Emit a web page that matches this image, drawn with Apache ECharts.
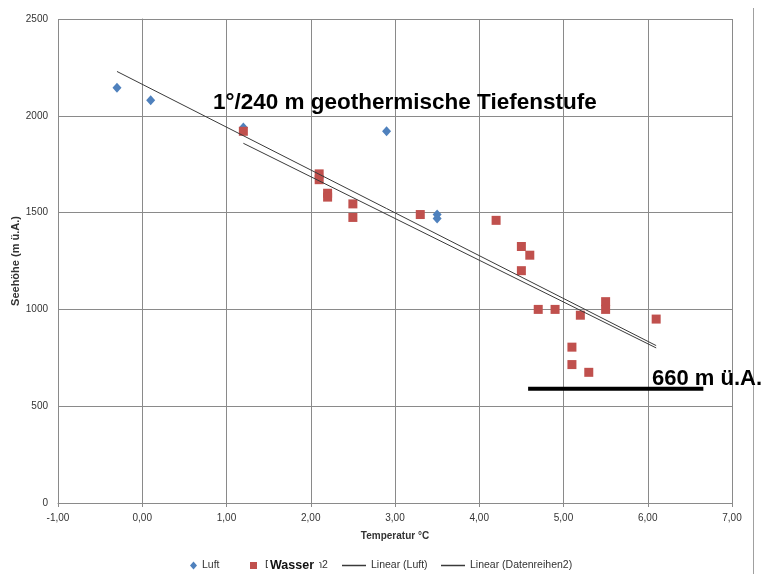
<!DOCTYPE html>
<html>
<head>
<meta charset="utf-8">
<title>Seehöhe und Temperatur</title>
<script src="https://cdn.jsdelivr.net/npm/echarts@6/dist/echarts.min.js"></script>
<style>
  html, body { margin: 0; padding: 0; background: #fff; }
  #chart { width: 763px; height: 574px; }
</style>
</head>
<body>
<div id="chart"></div>
<script>
// Air temperature readings (°C) and altitude (m ü.A.)
const luftTemp = [-0.3, 0.1, 1.2, 2.9, 3.5, 3.5];
const luftHoehe = [2145, 2080, 1940, 1920, 1490, 1470];

// Water (spring) temperature readings (°C) and altitude (m ü.A.)
const wasserTemp = [1.2, 2.1, 2.1, 2.2, 2.2, 2.5, 2.5, 3.3, 4.2, 4.5, 4.6, 4.5, 4.7, 4.9, 5.2, 5.5, 5.5, 6.1, 5.1, 5.1, 5.3];
const wasserHoehe = [1920, 1700, 1670, 1600, 1580, 1545, 1475, 1490, 1460, 1325, 1280, 1200, 1000, 1000, 970, 1040, 1000, 950, 805, 715, 675];

// Linear trend lines: end points (temperature, altitude)
const trendLuftTemp = [-0.3, 6.1];
const trendLuftHoehe = [2229, 813];
const trendWasserTemp = [1.2, 6.1];
const trendWasserHoehe = [1858, 801];

// Marker bar for the lowest spring level
const barTemp = [4.58, 6.66];
const barHoehe = [590, 590];

// Axis ticks
const xTickLabels = ['-1,00', '0,00', '1,00', '2,00', '3,00', '4,00', '5,00', '6,00', '7,00'];
const yTickLabels = ['0', '500', '1000', '1500', '2000', '2500'];

const seriesNames = ['Luft', 'Datenreihen2', 'Linear (Luft)', 'Linear (Datenreihen2)'];

const pairs = (xs, ys) => xs.map((x, i) => [x, ys[i]]);

const FONT = '"Liberation Sans", Arial, sans-serif';
const GRID_COLOR = '#8a8a8a';
const TEXT_COLOR = '#333';

const chart = echarts.init(document.getElementById('chart'), null, { renderer: 'canvas' });

function legendItem(name, left, opts) {
  return Object.assign({
    data: [name],
    left: left,
    top: 560,
    padding: 0,
    itemGap: 0,
    selectedMode: false,
    textStyle: { fontFamily: FONT, fontSize: 10.5, color: TEXT_COLOR }
  }, opts);
}

const option = {
  animation: false,
  backgroundColor: '#fff',
  grid: { left: 58, right: 31, top: 19, bottom: 71, containLabel: false, outerBoundsMode: 'none' },
  xAxis: {
    type: 'value',
    min: -1, max: 7, interval: 1,
    name: 'Temperatur °C',
    nameLocation: 'middle',
    nameGap: 28,
    nameTextStyle: { fontFamily: FONT, fontSize: 10, fontWeight: 'bold', color: TEXT_COLOR },
    axisLine: { show: true, lineStyle: { color: GRID_COLOR, width: 1 } },
    axisTick: { show: true, length: 4, lineStyle: { color: GRID_COLOR } },
    axisLabel: {
      margin: 10,
      fontFamily: FONT, fontSize: 10, color: TEXT_COLOR,
      formatter: v => xTickLabels[Math.round(v + 1)]
    },
    splitLine: { show: true, lineStyle: { color: GRID_COLOR, width: 1 } }
  },
  yAxis: {
    type: 'value',
    min: 0, max: 2500, interval: 500,
    name: 'Seehöhe (m ü.A.)',
    nameLocation: 'middle',
    nameGap: 37,
    nameMoveOverlap: false,
    nameTextStyle: { fontFamily: FONT, fontSize: 11, fontWeight: 'bold', color: TEXT_COLOR },
    axisLine: { show: true, lineStyle: { color: GRID_COLOR, width: 1 } },
    axisTick: { show: true, length: 4, lineStyle: { color: GRID_COLOR } },
    axisLabel: {
      margin: 10,
      fontFamily: FONT, fontSize: 10, color: TEXT_COLOR,
      formatter: v => yTickLabels[Math.round(v / 500)]
    },
    splitLine: { show: true, lineStyle: { color: GRID_COLOR, width: 1 } }
  },
  legend: [
    legendItem(seriesNames[0], 190, { itemWidth: 7, itemHeight: 8, icon: 'diamond' }),
    legendItem(seriesNames[1], 250, { itemWidth: 7, itemHeight: 7, icon: 'rect', formatter: n => ' ' + n }),
    legendItem(seriesNames[2], 342, { itemWidth: 24, itemHeight: 1.5, icon: 'rect' }),
    legendItem(seriesNames[3], 441, { itemWidth: 24, itemHeight: 1.5, icon: 'rect' })
  ],
  series: [
    {
      name: seriesNames[0],
      type: 'scatter',
      symbol: 'diamond',
      symbolSize: [9, 10],
      itemStyle: { color: '#4F81BD', opacity: 1 },
      data: pairs(luftTemp, luftHoehe),
      z: 2
    },
    {
      name: seriesNames[1],
      type: 'scatter',
      symbol: 'rect',
      symbolSize: 9,
      itemStyle: { color: '#C0504D', opacity: 1 },
      data: pairs(wasserTemp, wasserHoehe),
      z: 3
    },
    {
      name: seriesNames[2],
      type: 'line',
      showSymbol: false,
      symbol: 'none',
      itemStyle: { color: '#3a3a3a' },
      lineStyle: { color: '#3a3a3a', width: 1 },
      data: pairs(trendLuftTemp, trendLuftHoehe),
      z: 4
    },
    {
      name: seriesNames[3],
      type: 'line',
      showSymbol: false,
      symbol: 'none',
      itemStyle: { color: '#3a3a3a' },
      lineStyle: { color: '#3a3a3a', width: 1 },
      data: pairs(trendWasserTemp, trendWasserHoehe),
      z: 4
    },
    {
      name: 'Quellniveau',
      type: 'line',
      showSymbol: false,
      symbol: 'none',
      silent: true,
      lineStyle: { color: '#000', width: 4 },
      data: pairs(barTemp, barHoehe),
      z: 5
    }
  ],
  graphic: {
    z: 50,
    elements: [
      {
        type: 'text',
        left: 213, top: 91,
        z: 50,
        style: {
          text: '1°/240 m geothermische Tiefenstufe',
          font: 'bold 22.5px ' + FONT,
          fill: '#000'
        }
      },
      {
        type: 'text',
        left: 652, top: 368,
        z: 50,
        style: {
          text: '660 m ü.A.',
          font: 'bold 22px ' + FONT,
          fill: '#000'
        }
      },
      // Text box "Wasser" lying over the second legend entry
      {
        type: 'rect',
        left: 268, top: 558,
        z: 60,
        shape: { x: 0, y: 0, width: 51, height: 16 },
        style: { fill: '#fff' }
      },
      {
        type: 'text',
        left: 270, top: 559,
        z: 61,
        style: { text: 'Wasser', font: 'bold 12.5px ' + FONT, fill: '#111' }
      },
      // Outer frame edge on the right
      {
        type: 'line',
        z: 1,
        shape: { x1: 753.5, y1: 8, x2: 753.5, y2: 574 },
        style: { stroke: '#a0a0a0', lineWidth: 1 }
      }
    ]
  }
};

chart.setOption(option);
</script>
</body>
</html>
